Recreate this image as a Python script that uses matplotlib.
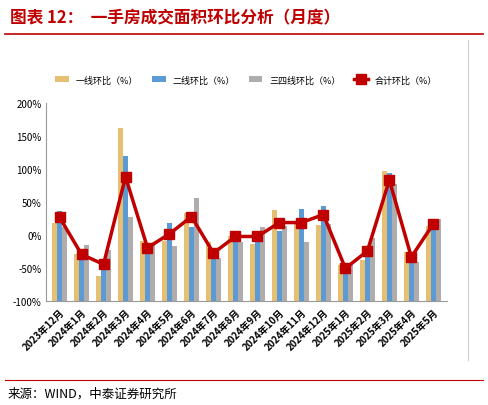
import matplotlib
matplotlib.use("Agg")
import matplotlib.pyplot as plt
import numpy as np
from matplotlib.lines import Line2D

plt.rcParams['font.family'] = ['Noto Sans CJK SC', 'DejaVu Sans']

months = ["2023年12月","2024年1月","2024年2月","2024年3月","2024年4月","2024年5月","2024年6月",
          "2024年7月","2024年8月","2024年9月","2024年10月","2024年11月","2024年12月",
          "2025年1月","2025年2月","2025年3月","2025年4月","2025年5月"]
tier1 = [18,-29,-61,161,-9,-9,34,-11,-1,-14,38,19,15,-45,-38,96,-26,14]
tier2 = [37,-24,-49,120,-19,18,13,-29,-10,-6,7,39,44,-49,-26,93,-31,17]
tier34 = [12,-15,-23,28,-14,-17,56,-34,-11,12,14,-10,17,-44,-5,77,-40,24]
total = [27,-29,-44,88,-19,2,28,-27,-2,-2,19,19,31,-50,-24,83,-33,17]

fig = plt.figure(figsize=(4.88,4.06), dpi=100)
fig.text(0.02,0.955,"图表 12：  一手房成交面积环比分析（月度）", color="#c00000", fontsize=12,
         fontweight="bold", style="italic", va="center")
fig.add_artist(Line2D([0.01,0.99],[0.915,0.915], color="#c00000", lw=1.2))
fig.add_artist(Line2D([0.96,0.96],[0.11,0.90], color="#cccccc", lw=0.8))
fig.add_artist(Line2D([0.01,0.99],[0.062,0.062], color="#c00000", lw=0.8))
fig.text(0.015,0.03,"来源：WIND，中泰证券研究所", fontsize=9, va="center")

ax = fig.add_axes([0.095,0.255,0.82,0.49])
x = np.arange(len(months))
w = 0.22
base = -100
b1 = ax.bar(x-w, np.array(tier1)-base, w, bottom=base, color="#e6bf72", label="一线环比（%）")
b2 = ax.bar(x, np.array(tier2)-base, w, bottom=base, color="#5b9bd5", label="二线环比（%）")
b3 = ax.bar(x+w, np.array(tier34)-base, w, bottom=base, color="#b0acac", label="三四线环比（%）")
l, = ax.plot(x, total, color="#c00000", lw=2.5, marker="s", ms=7, label="合计环比（%）")
ax.set_ylim(-100,200)
ax.set_xlim(-0.6,len(months)-0.4)
ax.set_yticks(range(-100,201,50))
ax.set_yticklabels([f"{v}%" for v in range(-100,201,50)], fontsize=7)
ax.set_xticks(x)
ax.set_xticklabels(months, rotation=45, ha="right", rotation_mode="anchor", fontsize=7, fontweight="bold")
ax.tick_params(length=0)
for s in ["top","right"]:
    ax.spines[s].set_visible(False)
ax.spines["left"].set_color("#999999")
ax.spines["bottom"].set_color("#999999")
ax.legend([b1,b2,b3,l],[b1.get_label(),b2.get_label(),b3.get_label(),l.get_label()],
          loc="lower center", bbox_to_anchor=(0.5,1.05), ncol=4, frameon=False, fontsize=6.5,
          handlelength=1.5, columnspacing=1.5)
fig.savefig("out.png", dpi=100)
